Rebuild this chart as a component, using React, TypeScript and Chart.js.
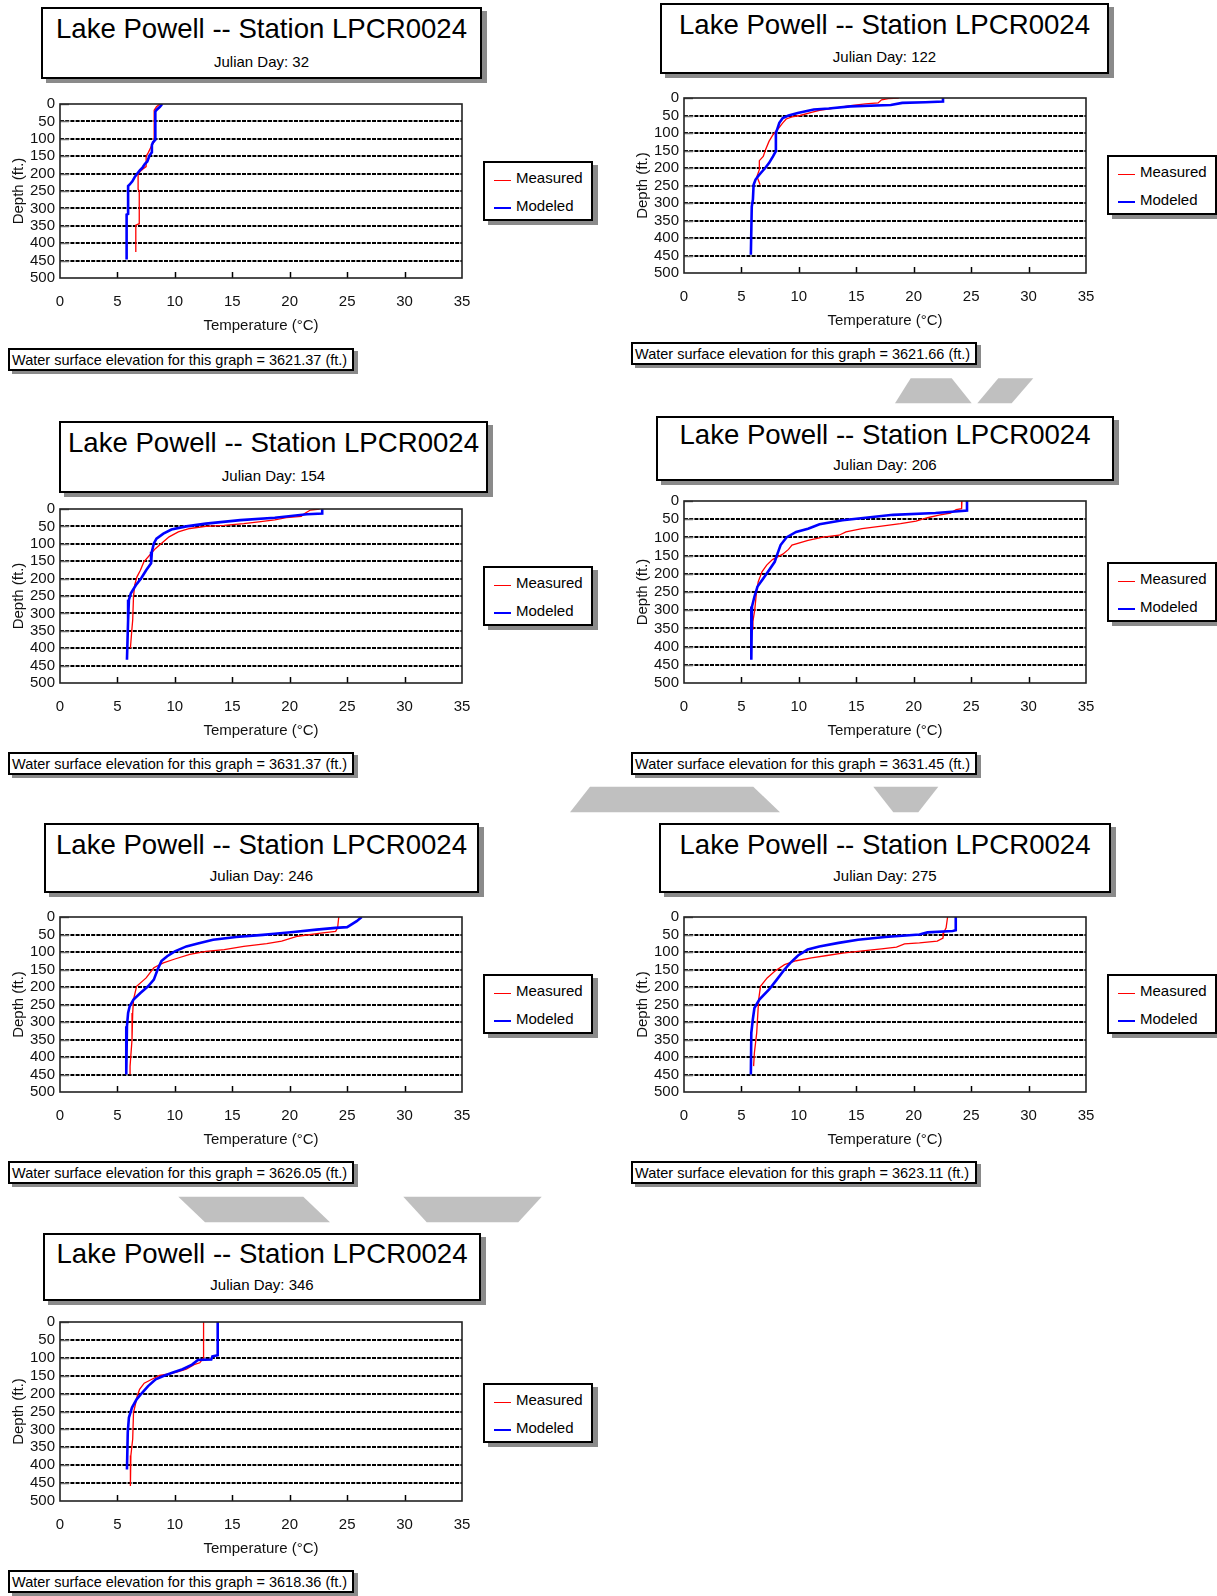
import React, { useEffect, useRef } from 'react';
import { Chart, registerables } from 'chart.js';

Chart.register(...registerables);

const FONT = "'Liberation Sans', Arial, Helvetica, sans-serif";

// ---------------- Data (temperature °C, depth ft) ----------------
const day32MeasTemp = [8.7, 8.4, 8.2, 8.2, 8.0, 7.7, 7.5, 7.5, 7.25, 7.0, 6.8, 6.8, 6.9, 6.9, 6.6, 6.6];
const day32MeasDepth = [0, 8, 18, 108, 118, 139, 150, 180, 186, 193, 203, 245, 250, 344, 348, 425];
const day32ModTemp = [8.9, 8.7, 8.4, 8.3, 8.3, 8.1, 8.0, 8.0, 7.8, 7.6, 7.4, 7.2, 6.95, 6.7, 6.5, 6.3, 6.05, 5.93, 5.93, 5.8, 5.8];
const day32ModDepth = [0, 8, 17, 22, 103, 110, 118, 139, 148, 165, 172, 182, 191, 201, 210, 222, 232, 236, 316, 318, 447];

const day122MeasTemp = [18.7, 17.8, 17.2, 16.9, 15.8, 14.5, 13.1, 11.8, 11.1, 10.1, 9.4, 8.9, 8.6, 8.25, 8.0, 7.75, 7.4, 7.1, 6.9, 6.56, 6.56, 6.35, 6.63];
const day122MeasDepth = [0, 2, 5, 14, 17, 22, 29, 35, 41, 50, 54, 60, 71, 86, 95, 105, 124, 148, 167, 179, 205, 224, 248];
const day122ModTemp = [22.55, 22.55, 21.0, 19.0, 18.0, 14.5, 12.6, 11.3, 9.9, 9.1, 8.6, 8.3, 8.15, 8.0, 8.0, 7.75, 7.4, 7.07, 6.8, 6.56, 6.23, 6.06, 6.0, 5.9, 5.82];
const day122ModDepth = [0, 10, 12, 14, 20, 24, 30, 33, 43, 50, 57, 71, 86, 100, 152, 167, 186, 200, 210, 219, 233, 248, 290, 310, 448];

const day154MeasTemp = [22.6, 21.8, 21.3, 21.0, 19.7, 18.7, 17.3, 16.0, 14.3, 12.7, 11.3, 10.3, 9.5, 9.0, 8.3, 7.8, 7.3, 7.0, 6.7, 6.5, 6.4, 6.33, 6.23, 6.13];
const day154MeasDepth = [0, 3, 13, 21, 25, 31, 37, 42, 47, 50, 56, 66, 80, 94, 114, 133, 152, 176, 195, 219, 252, 319, 357, 400];
const day154ModTemp = [22.83, 22.83, 21.5, 18.7, 15.7, 12.7, 11.0, 9.7, 9.0, 8.4, 8.17, 8.0, 7.93, 7.5, 7.07, 6.6, 6.17, 6.0, 5.93, 5.83];
const day154ModDepth = [0, 13, 15, 25, 32, 42, 50, 59, 71, 85, 99, 123, 156, 176, 199, 219, 242, 261, 319, 433];

const day206MeasTemp = [24.2, 24.17, 23.7, 23.2, 22.2, 21.2, 20.2, 18.85, 17.2, 15.5, 14.1, 13.5, 12.1, 10.8, 9.4, 9.1, 8.6, 7.7, 7.2, 6.8, 6.46, 6.3, 6.16, 6.0, 6.0];
const day206MeasDepth = [0, 21, 24, 33, 39, 46, 55, 62, 69, 76, 85, 94, 99, 108, 121, 133, 146, 161, 176, 194, 222, 254, 299, 331, 354];
const day206ModTemp = [24.64, 24.64, 23.9, 21.9, 18.2, 15.8, 13.8, 11.8, 10.8, 9.76, 8.92, 8.41, 8.15, 7.9, 7.4, 6.9, 6.4, 6.13, 5.92, 5.86];
const day206ModDepth = [0, 26, 28, 33, 38, 46, 53, 64, 76, 85, 100, 121, 144, 167, 190, 213, 235, 263, 290, 436];

const day246MeasTemp = [24.27, 24.17, 24.0, 22.7, 20.7, 19.3, 18.0, 16.0, 14.3, 12.7, 11.3, 10.0, 9.0, 8.17, 7.5, 6.67, 6.4, 6.33, 6.27, 6.1, 6.1];
const day246MeasDepth = [0, 31, 41, 46, 55, 69, 76, 84, 93, 98, 107, 120, 131, 145, 174, 198, 236, 274, 350, 426, 450];
const day246ModTemp = [26.27, 25.83, 25.0, 24.0, 22.33, 20.33, 18.67, 17.67, 15.33, 13.33, 12.0, 11.0, 10.0, 9.33, 8.83, 8.5, 8.17, 7.67, 7.0, 6.4, 6.07, 5.93, 5.83, 5.77];
const day246ModDepth = [0, 12, 29, 31, 36, 43, 48, 51, 57, 65, 76, 84, 98, 112, 126, 150, 179, 198, 217, 236, 255, 274, 312, 450];

const day275MeasTemp = [22.95, 22.82, 22.62, 22.55, 22.05, 20.5, 19.2, 18.5, 17.2, 15.15, 13.8, 12.45, 11.1, 9.76, 8.75, 7.9, 7.24, 6.66, 6.5, 6.33, 6.13, 6.06];
const day275MeasDepth = [0, 31, 44, 60, 69, 74, 77, 86, 91, 98, 103, 110, 117, 125, 136, 155, 174, 198, 236, 331, 388, 426];
const day275ModTemp = [23.66, 23.66, 23.39, 21.2, 20.5, 17.5, 15.15, 13.46, 11.78, 10.77, 9.93, 9.26, 8.75, 8.08, 7.41, 6.56, 6.13, 5.99, 5.86, 5.82];
const day275ModDepth = [0, 38, 40, 44, 50, 57, 65, 74, 84, 93, 110, 131, 150, 179, 207, 236, 260, 293, 331, 450];

const day346MeasTemp = [12.5, 12.5, 12.17, 11.67, 11.0, 10.17, 9.33, 8.67, 8.0, 7.33, 6.93, 6.73, 6.6, 6.4, 6.33, 6.17, 6.13];
const day346MeasDepth = [0, 100, 114, 119, 132, 140, 146, 149, 160, 171, 188, 206, 225, 253, 327, 373, 458];
const day346ModTemp = [13.73, 13.73, 13.27, 13.17, 12.0, 11.5, 10.67, 9.83, 9.0, 8.33, 7.67, 7.17, 6.67, 6.27, 6.0, 5.9, 5.83];
const day346ModDepth = [0, 93, 96, 105, 106, 119, 132, 141, 151, 160, 179, 197, 216, 239, 267, 308, 412];

const julianDays = [32, 122, 154, 206, 246, 275, 346];
const surfaceElevations = ['3621.37', '3621.66', '3631.37', '3631.45', '3626.05', '3623.11', '3618.36'];
const stationTitle = 'Lake Powell -- Station LPCR0024';
const seriesNames = ['Measured', 'Modeled'];
const tempRange = [0, 35, 5];
const depthRange = [0, 500, 50];

const SERIES = [
  [day32MeasTemp, day32MeasDepth, day32ModTemp, day32ModDepth],
  [day122MeasTemp, day122MeasDepth, day122ModTemp, day122ModDepth],
  [day154MeasTemp, day154MeasDepth, day154ModTemp, day154ModDepth],
  [day206MeasTemp, day206MeasDepth, day206ModTemp, day206ModDepth],
  [day246MeasTemp, day246MeasDepth, day246ModTemp, day246ModDepth],
  [day275MeasTemp, day275MeasDepth, day275ModTemp, day275ModDepth],
  [day346MeasTemp, day346MeasDepth, day346ModTemp, day346ModDepth],
];

// ---------------- Layout (page pixels) ----------------
const LAYOUT = [
  { plot: [60, 104, 402, 174], title: [41, 7, 441, 72], legend: [483, 161], wse: [8, 348] },
  { plot: [684, 98, 402, 175], title: [660, 3, 449, 71], legend: [1107, 155], wse: [631, 342] },
  { plot: [60, 509, 402, 174], title: [59, 421, 429, 72], legend: [483, 566], wse: [8, 752] },
  { plot: [684, 501, 402, 182], title: [656, 416, 458, 65], legend: [1107, 562], wse: [631, 752] },
  { plot: [60, 917, 402, 175], title: [44, 823, 435, 70], legend: [483, 974], wse: [8, 1161] },
  { plot: [684, 917, 402, 175], title: [659, 823, 452, 70], legend: [1107, 974], wse: [631, 1161] },
  { plot: [60, 1322, 402, 179], title: [43, 1233, 438, 68], legend: [483, 1383], wse: [8, 1570] },
];

const DECOR = [
  '910.7,378.3 951.7,378.3 971.7,403.3 895,403.3',
  '998.3,378.3 1033.3,378.3 1011.7,403.3 977.3,403.3',
  '590,786.7 753.3,786.7 780,812.3 570,812.3',
  '873.3,786.7 938.3,786.7 918.3,812.3 893.3,812.3',
  '178.3,1196.7 303.3,1196.7 330,1222.3 205,1222.3',
  '403.3,1196.7 541.7,1196.7 518.3,1222.3 426.7,1222.3',
];

const Y_AXIS_W = 52;
const PAD_TOP = 18;
const PAD_RIGHT = 18;
const X_AXIS_H = 57;

const framePlugin = {
  id: 'frame',
  afterDraw(chart: any) {
    const { ctx, chartArea, scales } = chart;
    const { left, top, right, bottom } = chartArea;
    const xs = scales.x;
    const ys = scales.y;
    ctx.save();
    ctx.lineWidth = 1.5;
    ctx.strokeStyle = '#6a6a6a';
    ys.ticks.forEach((t: any) => {
      if (t.value >= depthRange[1]) return;
      const py = Math.round(ys.getPixelForValue(t.value)) + 0.5;
      ctx.beginPath();
      ctx.moveTo(left, py);
      ctx.lineTo(left + 9, py);
      ctx.stroke();
    });
    ctx.strokeStyle = '#000';
    xs.ticks.forEach((t: any) => {
      if (t.value <= tempRange[0] || t.value >= tempRange[1]) return;
      const px = Math.round(xs.getPixelForValue(t.value)) + 0.5;
      ctx.beginPath();
      ctx.moveTo(px, bottom);
      ctx.lineTo(px, bottom - 6);
      ctx.stroke();
    });
    ctx.strokeStyle = '#222';
    ctx.lineWidth = 1.6;
    ctx.strokeRect(left, top, right - left, bottom - top);
    ctx.restore();
  },
};

function toPoints(t: number[], d: number[]) {
  return t.map((v, i) => ({ x: v, y: d[i] }));
}

function ProfileChart({ idx, w, h }: { idx: number; w: number; h: number }) {
  const ref = useRef<HTMLCanvasElement>(null);
  useEffect(() => {
    const [mT, mD, sT, sD] = SERIES[idx];
    const font = { family: FONT, size: 15 };
    const chart = new Chart(ref.current as HTMLCanvasElement, {
      type: 'scatter',
      data: {
        datasets: [
          {
            label: seriesNames[0],
            data: toPoints(mT, mD),
            showLine: true,
            borderColor: 'rgb(255,0,0)',
            backgroundColor: 'rgb(255,0,0)',
            borderWidth: 1.3,
            pointRadius: 0,
            tension: 0,
            order: 1,
          },
          {
            label: seriesNames[1],
            data: toPoints(sT, sD),
            showLine: true,
            borderColor: 'rgb(0,0,255)',
            backgroundColor: 'rgb(0,0,255)',
            borderWidth: 2.6,
            pointRadius: 0,
            tension: 0,
            order: 0,
          },
        ],
      },
      options: {
        animation: false,
        responsive: false,
        maintainAspectRatio: false,
        layout: { padding: { top: PAD_TOP, right: PAD_RIGHT, left: 0, bottom: 0 } },
        plugins: { legend: { display: false }, tooltip: { enabled: false } },
        scales: {
          x: {
            type: 'linear',
            min: tempRange[0],
            max: tempRange[1],
            ticks: { stepSize: tempRange[2], color: '#111', font, padding: 0, autoSkip: false },
            grid: { display: false, drawTicks: true, tickLength: 15 },
            border: { display: false },
            title: { display: true, text: 'Temperature (°C)', color: '#111', font, padding: 0 },
            afterFit: (s: any) => {
              s.height = X_AXIS_H;
            },
          },
          y: {
            type: 'linear',
            reverse: true,
            min: depthRange[0],
            max: depthRange[1],
            ticks: { stepSize: depthRange[2], color: '#111', font, padding: 5, autoSkip: false },
            grid: {
              drawTicks: false,
              lineWidth: 2,
              color: (c: any) =>
                c.tick && (c.tick.value === depthRange[0] || c.tick.value === depthRange[1])
                  ? 'rgba(0,0,0,0)'
                  : '#000',
            },
            border: { display: false, dash: [4, 1.2] },
            title: { display: true, text: 'Depth (ft.)', color: '#111', font, padding: { top: 2, bottom: 0 } },
            afterFit: (s: any) => {
              s.width = Y_AXIS_W;
            },
          },
        },
      } as any,
      plugins: [framePlugin],
    });
    return () => chart.destroy();
  }, [idx]);
  return <canvas ref={ref} width={w} height={h} style={{ display: 'block', width: w, height: h }} />;
}

function Panel({ idx }: { idx: number }) {
  const L = LAYOUT[idx];
  const [pl, pt, pw, ph] = L.plot;
  const [tl, tt, tw, th] = L.title;
  const [ll, lt] = L.legend;
  const [wl, wt] = L.wse;
  const cw = pw + Y_AXIS_W + PAD_RIGHT;
  const ch = ph + PAD_TOP + X_AXIS_H;
  const abs = (o: any) => ({ position: 'absolute' as const, ...o });
  return (
    <>
      <div
        style={abs({
          left: tl, top: tt, width: tw, height: th, boxSizing: 'border-box',
          border: '2px solid #000', background: '#fff', boxShadow: '5px 4px 0 #8a8a8a',
        })}
      />
      <div
        style={abs({
          left: tl, top: tt + 0.445 * th - 25.6, width: tw, textAlign: 'center',
          fontSize: 27.6, lineHeight: '32px', whiteSpace: 'nowrap', color: '#000',
        })}
      >
        {stationTitle}
      </div>
      <div
        style={abs({
          left: tl, top: tt + 0.835 * th - 14.2, width: tw, textAlign: 'center',
          fontSize: 15, lineHeight: '18px', whiteSpace: 'nowrap', color: '#000',
        })}
      >
        {'Julian Day: ' + julianDays[idx]}
      </div>

      <div style={abs({ left: pl - Y_AXIS_W, top: pt - PAD_TOP, width: cw, height: ch })}>
        <ProfileChart idx={idx} w={cw} h={ch} />
      </div>

      <div
        style={abs({
          left: ll, top: lt, width: 110, height: 60, boxSizing: 'border-box',
          border: '2px solid #000', background: '#fff', boxShadow: '5px 4px 0 #8a8a8a',
        })}
      />
      <div style={abs({ left: ll + 11, top: lt + 18.5, width: 17, height: 1.5, background: 'rgb(255,0,0)' })} />
      <div style={abs({ left: ll + 11, top: lt + 45.5, width: 17, height: 2.6, background: 'rgb(0,0,255)' })} />
      <div style={abs({ left: ll + 33, top: lt + 8, fontSize: 15, lineHeight: '18px', whiteSpace: 'nowrap' })}>
        {seriesNames[0]}
      </div>
      <div style={abs({ left: ll + 33, top: lt + 35.5, fontSize: 15, lineHeight: '18px', whiteSpace: 'nowrap' })}>
        {seriesNames[1]}
      </div>

      <div
        style={abs({
          left: wl, top: wt, width: 346, height: 23, boxSizing: 'border-box',
          border: '2px solid #000', background: '#fff', boxShadow: '4px 3px 0 #8a8a8a',
        })}
      />
      <div style={abs({ left: wl + 4, top: wt + 2.6, fontSize: 14.5, lineHeight: '18px', whiteSpace: 'nowrap' })}>
        {'Water surface elevation for this graph = ' + surfaceElevations[idx] + ' (ft.)'}
      </div>
    </>
  );
}

export default function App() {
  return (
    <div
      style={{
        position: 'absolute', left: 0, top: 0, width: 1217, height: 1596, overflow: 'hidden',
        background: '#fff', fontFamily: FONT, color: '#000',
      }}
    >
      <svg width={1217} height={1596} style={{ position: 'absolute', left: 0, top: 0 }}>
        {DECOR.map((p, i) => (
          <polygon key={i} points={p} fill="#c0c0c0" />
        ))}
      </svg>
      {LAYOUT.map((_, i) => (
        <Panel key={i} idx={i} />
      ))}
    </div>
  );
}
